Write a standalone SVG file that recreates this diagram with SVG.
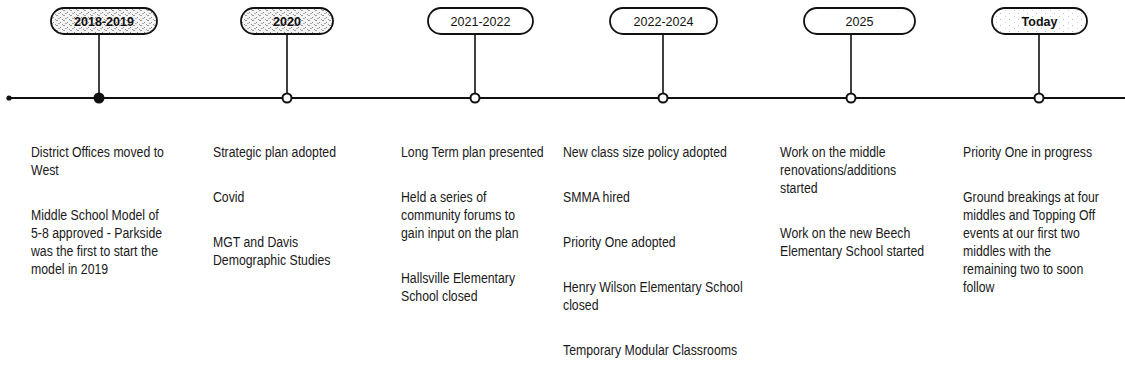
<svg xmlns="http://www.w3.org/2000/svg" width="1125" height="387" viewBox="0 0 1125 387">
<style>
.pill{stroke:#111;stroke-width:1.8;}
.plain{fill:#fff;}
.ptxt{font-family:"Liberation Sans",Arial,sans-serif;font-size:12.5px;fill:#111;text-anchor:middle;}
.b{font-weight:bold;}
.stem{stroke:#111;stroke-width:1.6;fill:none;}
.axis{stroke:#111;stroke-width:1.8;fill:none;}
.node{fill:#fff;stroke:#111;stroke-width:2;}
.body{font-family:"Liberation Sans",Arial,sans-serif;font-size:15px;fill:#1a1a1a;}
</style>
<defs>
<pattern id="noise" width="7" height="5" patternUnits="userSpaceOnUse">
<rect width="7" height="5" fill="#f4f4f4"/>
<rect x="0" y="0" width="2" height="1" fill="#9a9a9a"/>
<rect x="4" y="2" width="1" height="1" fill="#8a8a8a"/>
<rect x="2" y="3" width="2" height="1" fill="#b0b0b0"/>
<rect x="6" y="4" width="1" height="1" fill="#999"/>
</pattern>
<pattern id="noiseLight" width="9" height="6" patternUnits="userSpaceOnUse">
<rect width="9" height="6" fill="#fff"/>
<rect x="1" y="1" width="1" height="1" fill="#bbb"/>
<rect x="6" y="4" width="1" height="1" fill="#ccc"/>
</pattern>
</defs>

<g id="connectors">
<line class="axis" x1="9" y1="98" x2="1125" y2="98"/>
<circle cx="9" cy="98" r="2.6" fill="#111"/>
<line class="stem" x1="99" y1="34" x2="99" y2="98"/>
<line class="stem" x1="287" y1="34" x2="287" y2="98"/>
<line class="stem" x1="475" y1="34" x2="475" y2="98"/>
<line class="stem" x1="663" y1="34" x2="663" y2="98"/>
<line class="stem" x1="851" y1="34" x2="851" y2="98"/>
<line class="stem" x1="1039" y1="34" x2="1039" y2="98"/>
<circle cx="99" cy="98" r="4.5" fill="#111" stroke="#111" stroke-width="2"/>
<circle class="node" cx="287" cy="98" r="4.5"/>
<circle class="node" cx="475" cy="98" r="4.5"/>
<circle class="node" cx="663" cy="98" r="4.5"/>
<circle class="node" cx="851" cy="98" r="4.5"/>
<circle class="node" cx="1039" cy="98" r="4.5"/>
</g>

<g id="node-2018-2019">
<rect class="pill" x="51" y="8" width="106" height="26" rx="13" fill="url(#noise)"/>
<text class="ptxt b" x="104" y="25.5" font-size="13.5">2018-2019</text>
<g transform="translate(31,0) scale(0.82,1)">
<text class="body" x="0" y="157">District Offices moved to</text>
<text class="body" x="0" y="175">West</text>
<text class="body" x="0" y="220">Middle School Model of</text>
<text class="body" x="0" y="238">5-8 approved - Parkside</text>
<text class="body" x="0" y="256">was the first to start the</text>
<text class="body" x="0" y="274">model in 2019</text>
</g>
</g>

<g id="node-2020">
<rect class="pill" x="241" y="8" width="92" height="26" rx="13" fill="url(#noise)"/>
<text class="ptxt b" x="287" y="25.5" font-size="13.5">2020</text>
<g transform="translate(213,0) scale(0.82,1)">
<text class="body" x="0" y="157">Strategic plan adopted</text>
<text class="body" x="0" y="202">Covid</text>
<text class="body" x="0" y="247">MGT and Davis</text>
<text class="body" x="0" y="265">Demographic Studies</text>
</g>
</g>

<g id="node-2021-2022">
<rect class="pill plain" x="428" y="8" width="105" height="26" rx="13"/>
<text class="ptxt" x="480.5" y="25.5">2021-2022</text>
<g transform="translate(401,0) scale(0.82,1)">
<text class="body" x="0" y="157">Long Term plan presented</text>
<text class="body" x="0" y="202">Held a series of</text>
<text class="body" x="0" y="220">community forums to</text>
<text class="body" x="0" y="238">gain input on the plan</text>
<text class="body" x="0" y="283">Hallsville Elementary</text>
<text class="body" x="0" y="301">School closed</text>
</g>
</g>

<g id="node-2022-2024">
<rect class="pill plain" x="610" y="8" width="107" height="26" rx="13"/>
<text class="ptxt" x="663.5" y="25.5">2022-2024</text>
<g transform="translate(563,0) scale(0.82,1)">
<text class="body" x="0" y="157">New class size policy adopted</text>
<text class="body" x="0" y="202">SMMA hired</text>
<text class="body" x="0" y="247">Priority One adopted</text>
<text class="body" x="0" y="292">Henry Wilson Elementary School</text>
<text class="body" x="0" y="310">closed</text>
<text class="body" x="0" y="355">Temporary Modular Classrooms</text>
</g>
</g>

<g id="node-2025">
<rect class="pill plain" x="804" y="8" width="111" height="26" rx="13"/>
<text class="ptxt" x="859.5" y="25.5">2025</text>
<g transform="translate(780,0) scale(0.82,1)">
<text class="body" x="0" y="157">Work on the middle</text>
<text class="body" x="0" y="175">renovations/additions</text>
<text class="body" x="0" y="193">started</text>
<text class="body" x="0" y="238">Work on the new Beech</text>
<text class="body" x="0" y="256">Elementary School started</text>
</g>
</g>

<g id="node-today">
<rect class="pill" x="992" y="8" width="95" height="26" rx="13" fill="url(#noiseLight)"/>
<text class="ptxt b" x="1039.5" y="25.5">Today</text>
<g transform="translate(963,0) scale(0.82,1)">
<text class="body" x="0" y="157">Priority One in progress</text>
<text class="body" x="0" y="202">Ground breakings at four</text>
<text class="body" x="0" y="220">middles and Topping Off</text>
<text class="body" x="0" y="238">events at our first two</text>
<text class="body" x="0" y="256">middles with the</text>
<text class="body" x="0" y="274">remaining two to soon</text>
<text class="body" x="0" y="292">follow</text>
</g>
</g>
</svg>
